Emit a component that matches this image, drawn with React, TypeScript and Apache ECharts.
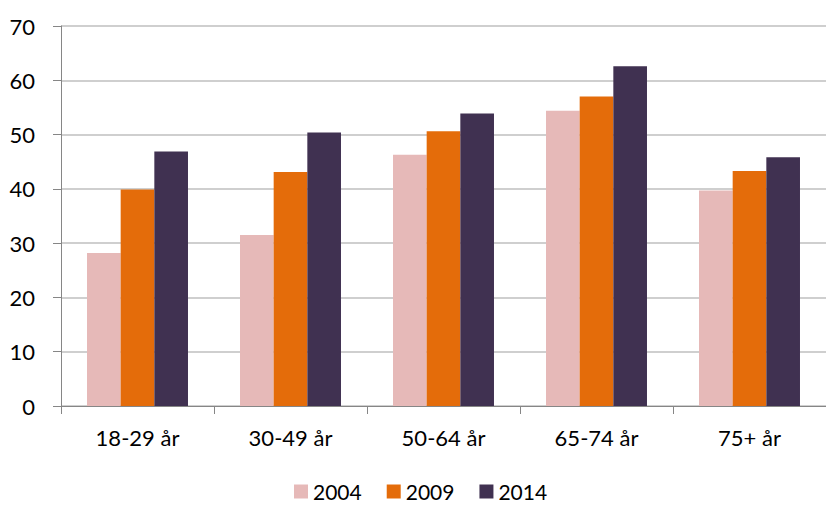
import React, { useEffect, useRef } from "react";
import * as echarts from "echarts";

const categories = ["18-29 år", "30-49 år", "50-64 år", "65-74 år", "75+ år"];
const seriesNames = ["2004", "2009", "2014"];
const values2004 = [28.2, 31.5, 46.3, 54.4, 39.7];
const values2009 = [39.9, 43.1, 50.6, 57.0, 43.3];
const values2014 = [46.9, 50.4, 53.9, 62.6, 45.8];
const colors = ["#E6B9B8", "#E46C0A", "#403151"];

export default function App() {
  const ref = useRef<HTMLDivElement>(null);
  useEffect(() => {
    if (!ref.current) return;
    const chart = echarts.init(ref.current, null, { renderer: "svg" });
    const font = "Lato";
    const data = [values2004, values2009, values2014];
    chart.setOption({
      animation: false,
      backgroundColor: "#ffffff",
      textStyle: { fontFamily: font },
      grid: { left: 61, top: 26, width: 770, height: 380, containLabel: false },
      legend: {
        top: 481,
        left: 294,
        padding: 0,
        itemWidth: 14,
        itemHeight: 14,
        itemGap: 25,
        icon: "rect",
        textStyle: { fontFamily: font, fontSize: 21, lineHeight: 18, color: "#000" },
        data: seriesNames,
      },
      xAxis: {
        type: "category",
        data: categories,
        axisLine: { lineStyle: { color: "#868686", width: 1 } },
        axisTick: { show: true, length: 8, lineStyle: { color: "#868686" } },
        axisLabel: { fontFamily: font, fontSize: 22, color: "#000", margin: 20 },
      },
      yAxis: {
        type: "value",
        min: 0,
        max: 70,
        interval: 10,
        axisLine: { show: true, lineStyle: { color: "#868686", width: 1 } },
        axisTick: { show: true, length: 8, lineStyle: { color: "#868686" } },
        axisLabel: { fontFamily: font, fontSize: 22, color: "#000", margin: 26 },
        splitLine: { show: true, lineStyle: { color: "#BFBFBF", width: 1.5 } },
      },
      series: seriesNames.map((name, i) => ({
        name,
        type: "bar",
        data: data[i],
        barGap: "0%",
        barCategoryGap: "34%",
        itemStyle: { color: colors[i] },
      })),
    });
    return () => chart.dispose();
  }, []);
  return (
    <div
      ref={ref}
      style={{ position: "fixed", left: 0, top: 0, width: 826, height: 505 }}
    />
  );
}
